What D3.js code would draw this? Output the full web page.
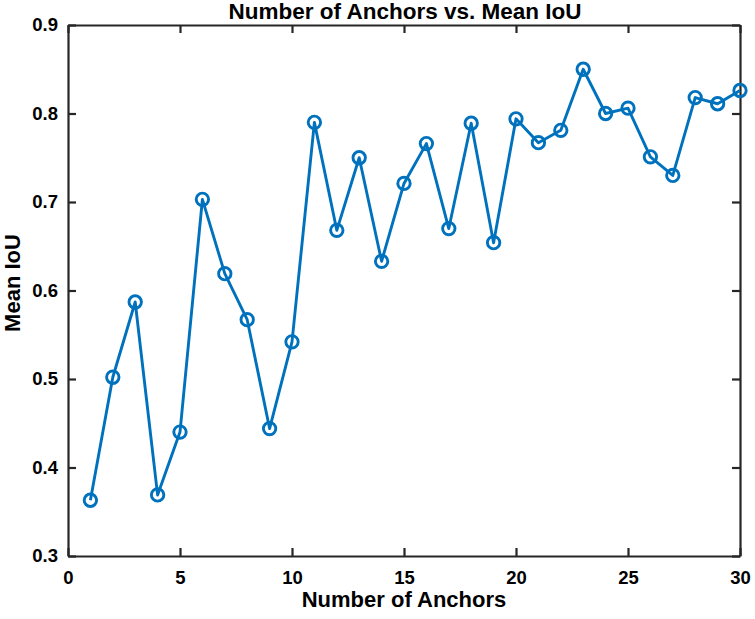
<!DOCTYPE html>
<html>
<head>
<meta charset="utf-8">
<script src="https://cdn.jsdelivr.net/npm/d3@7"></script>
<style>
  body { margin: 0; background: #fff; }
  text { font-family: Arial, "Liberation Sans", sans-serif; font-weight: bold; fill: #000; }
</style>
</head>
<body>
<svg width="755" height="619"></svg>
<script>
// number of anchors and the mean IoU
var anchors = [1, 2, 3, 4, 5, 6, 7, 8, 9, 10, 11, 12, 13, 14, 15,
               16, 17, 18, 19, 20, 21, 22, 23, 24, 25, 26, 27, 28, 29, 30];
var meanIoU = [0.363, 0.502, 0.587, 0.369, 0.440, 0.703, 0.619, 0.567, 0.444, 0.542,
               0.790, 0.668, 0.750, 0.633, 0.721, 0.766, 0.670, 0.789, 0.654, 0.794,
               0.767, 0.781, 0.850, 0.800, 0.806, 0.751, 0.730, 0.818, 0.811, 0.826];
var xTicks = [0, 5, 10, 15, 20, 25, 30];
var yTicks = [0.3, 0.4, 0.5, 0.6, 0.7, 0.8, 0.9];

var svg = d3.select("svg");
var plotLeft = 68, plotRight = 740, plotTop = 25, plotBottom = 556;
var tickLen = 8;
var axisColor = "#262626";

var x = d3.scaleLinear().domain([0, 30]).range([plotLeft, plotRight]);
var y = d3.scaleLinear().domain([0.3, 0.9]).range([plotBottom, plotTop]);

// bottom/left axes carry labels, top/right mirror the ticks (ticks point inward)
var gx = svg.append("g")
    .attr("transform", "translate(0," + plotBottom + ")")
    .call(d3.axisBottom(x).tickValues(xTicks).tickSizeInner(-tickLen).tickSizeOuter(0));
var gxTop = svg.append("g")
    .attr("transform", "translate(0," + plotTop + ")")
    .call(d3.axisTop(x).tickValues(xTicks).tickSizeInner(-tickLen).tickSizeOuter(0).tickFormat(""));
var gy = svg.append("g")
    .attr("transform", "translate(" + plotLeft + ",0)")
    .call(d3.axisLeft(y).tickValues(yTicks).tickSizeInner(-tickLen).tickSizeOuter(0)
      .tickFormat(d3.format(".1f")));
var gyRight = svg.append("g")
    .attr("transform", "translate(" + plotRight + ",0)")
    .call(d3.axisRight(y).tickValues(yTicks).tickSizeInner(-tickLen).tickSizeOuter(0).tickFormat(""));

[gx, gxTop, gy, gyRight].forEach(function(g) {
  g.attr("font-size", 18.5).attr("font-family", null);
  g.select(".domain").attr("stroke", axisColor).attr("stroke-width", 2.2);
  g.selectAll(".tick line").attr("stroke", axisColor).attr("stroke-width", 2.2);
  g.selectAll(".tick text").attr("fill", "#000");
});
gx.selectAll(".tick text").attr("y", 15).attr("dy", "0.71em");
gy.selectAll(".tick text").attr("x", -10).attr("dy", "0.32em");

// series
var line = d3.line()
    .x(function(d, i) { return x(anchors[i]); })
    .y(function(d) { return y(d); });

svg.append("path")
    .datum(meanIoU)
    .attr("fill", "none")
    .attr("stroke", "#0072BD")
    .attr("stroke-width", 2.9)
    .attr("stroke-linejoin", "round")
    .attr("d", line);

svg.append("g")
  .selectAll("circle")
  .data(meanIoU)
  .enter().append("circle")
    .attr("cx", function(d, i) { return x(anchors[i]); })
    .attr("cy", function(d) { return y(d); })
    .attr("r", 6.2)
    .attr("fill", "none")
    .attr("stroke", "#0072BD")
    .attr("stroke-width", 2.9);

// labels
svg.append("text")
    .attr("x", 405)
    .attr("y", 19)
    .attr("text-anchor", "middle")
    .attr("font-size", 22.5)
    .text("Number of Anchors vs. Mean IoU");

svg.append("text")
    .attr("x", 404)
    .attr("y", 607)
    .attr("text-anchor", "middle")
    .attr("font-size", 22)
    .text("Number of Anchors");

svg.append("text")
    .attr("transform", "translate(20,283) rotate(-90)")
    .attr("text-anchor", "middle")
    .attr("font-size", 22)
    .text("Mean IoU");
</script>
</body>
</html>
